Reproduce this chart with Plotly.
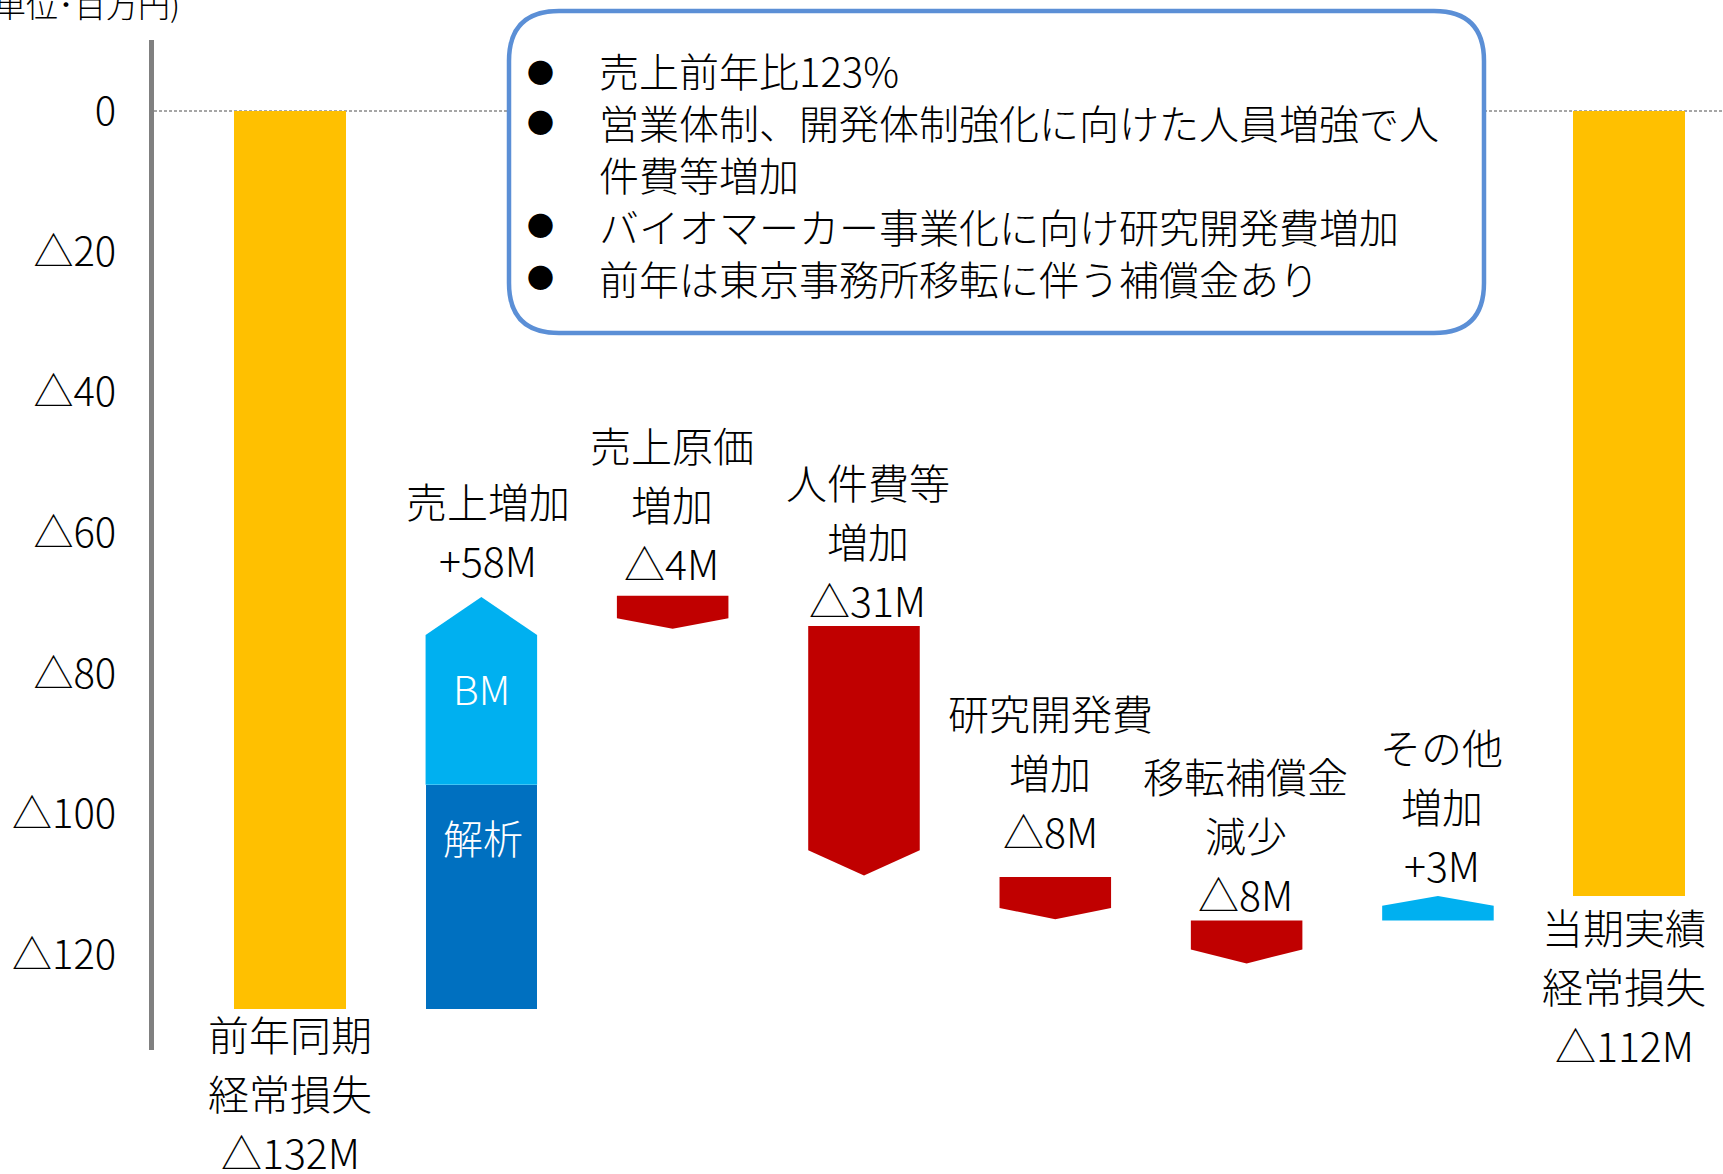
import plotly.graph_objects as go

# ---------------- data ----------------
categories = ["前年同期経常損失", "売上増加", "売上原価増加", "人件費等増加",
              "研究開発費増加", "移転補償金減少", "その他増加", "当期実績経常損失"]
label_lines = [["前年同期", "経常損失"], ["売上増加"], ["売上原価", "増加"],
               ["人件費等", "増加"], ["研究開発費", "増加"], ["移転補償金", "減少"],
               ["その他", "増加"], ["当期実績", "経常損失"]]
value_labels = ["△132M", "+58M", "△4M", "△31M", "△8M", "△8M", "+3M", "△112M"]

prev_year_loss = -127.6          # bar as drawn
sales_segments = ["解析", "BM"]
sales_values = [31.8, 26.7]      # stacked increase (解析, BM)
step_start = [-68.9, -73.2, -108.9, -115.1, -115.1]
step_end = [-73.6, -108.7, -114.9, -121.2, -111.6]
current_loss = -111.6

tick_values = [0, -20, -40, -60, -80, -100, -120]
tick_labels = ["0", "△20", "△40", "△60", "△80", "△100", "△120"]

note_items = [["売上前年比123%"],
              ["営業体制、開発体制強化に向けた人員増強で人", "件費等増加"],
              ["バイオマーカー事業化に向け研究開発費増加"],
              ["前年は東京事務所移転に伴う補償金あり"]]
unit_label = "(単位･百万円)"

# ---------------- style ----------------
W, H = 1723, 1174
ML, MR, MT, MB = 154, 0, 40, 124
X_RANGE = [-0.711, 7.49]
Y_RANGE = [-133.5, 10.1]
HALF = 0.2915
FONT = "Noto Sans CJK JP"
YELLOW, LBLUE, DBLUE, RED = "#FFC000", "#00B0F0", "#0070C0", "#C00000"
step_heads = [1.5, 3.6, 1.6, 2.0, 1.4]
sales_head = 5.4
label_offsets = [24, 38, 34, 27, 47, 28, 32, 30]
label_xshift = [0, 7, -1, 4, -5, -1, 4, -5]
LINE_GAP = 59
TXT_W = 300


def px2x(px):
    return (px - ML) / (W - ML - MR)


def py2y(py):
    return 1 - (py - MT) / (H - MT - MB)


def arrow(xc, s, e, head):
    d = 1 if e > s else -1
    sh = e - d * head
    xs = [xc - HALF, xc + HALF, xc + HALF, xc, xc - HALF, xc - HALF]
    ys = [s, s, sh, e, sh, s]
    return xs, ys


fig = go.Figure()

# yellow totals
fig.add_trace(go.Bar(x=[0, 7], y=[prev_year_loss, current_loss], base=0,
                     width=2 * HALF, marker=dict(color=YELLOW, line=dict(width=0)),
                     hoverinfo="skip", showlegend=False))

# sales increase: 解析 rect + BM arrow
fig.add_trace(go.Bar(x=[1], y=[sales_values[0]], base=prev_year_loss, width=2 * HALF,
                     marker=dict(color=DBLUE, line=dict(width=0)),
                     hoverinfo="skip", showlegend=False))
bm_start = prev_year_loss + sales_values[0]
bm_end = bm_start + sales_values[1]
xs, ys = arrow(1, bm_start, bm_end, sales_head)
fig.add_trace(go.Scatter(x=xs, y=ys, fill="toself", fillcolor=LBLUE, mode="lines",
                         line=dict(width=0, color=LBLUE), hoverinfo="skip", showlegend=False))

# steps
for k, (s, e) in enumerate(zip(step_start, step_end)):
    col = LBLUE if e > s else RED
    xs, ys = arrow(k + 2, s, e, step_heads[k])
    fig.add_trace(go.Scatter(x=xs, y=ys, fill="toself", fillcolor=col, mode="lines",
                             line=dict(width=0, color=col), hoverinfo="skip", showlegend=False))

annotations = []
# category labels
anchors = [prev_year_loss, bm_end] + [max(s, e) for s, e in zip(step_start, step_end)] + [current_loss]
below = [True, False, False, False, False, False, False, True]
for i in range(8):
    lines = label_lines[i] + [value_labels[i]]
    n = len(lines)
    for k, t in enumerate(lines):
        if below[i]:
            ysh = -(label_offsets[i] + k * LINE_GAP)
        else:
            ysh = label_offsets[i] + (n - 1 - k) * LINE_GAP
        annotations.append(dict(x=i, y=anchors[i], xref="x", yref="y", text=t,
                                showarrow=False, yshift=ysh, xshift=label_xshift[i],
                                xanchor="center", yanchor="middle",
                                font=dict(family=FONT, size=41, color="black", weight=TXT_W)))

# segment labels inside sales arrow
annotations.append(dict(x=1, y=prev_year_loss + sales_values[0] / 2, xref="x", yref="y",
                        text=sales_segments[0], showarrow=False, yshift=60, xshift=2,
                        font=dict(family=FONT, size=40, color="white", weight=TXT_W)))
annotations.append(dict(x=1, y=bm_start + sales_values[1] / 2, xref="x", yref="y",
                        text=sales_segments[1], showarrow=False, yshift=3,
                        font=dict(family=FONT, size=40, color="white", weight=TXT_W)))

# notes box text: bullets + one multi-line block
line_y = [71, 122, 173, 225, 276]
li = 0
block = []
for item in note_items:
    annotations.append(dict(x=px2x(540), y=py2y(line_y[li]), xref="paper", yref="paper",
                            text="●", showarrow=False, xanchor="center", yanchor="middle",
                            font=dict(family=FONT, size=27, color="black")))
    for t in item:
        block.append(t)
        li += 1
annotations.append(dict(x=px2x(597), y=py2y((line_y[0] + line_y[-1]) / 2), xref="paper",
                        yref="paper", text="<br>".join(block), showarrow=False,
                        xanchor="left", yanchor="middle", align="left",
                        font=dict(family=FONT, size=40, color="black", weight=TXT_W)))

# unit label (partly off-page as in source)
annotations.append(dict(x=px2x(182), y=py2y(3), xref="paper", yref="paper", text=unit_label,
                        showarrow=False, xanchor="right", yanchor="middle",
                        font=dict(family=FONT, size=32, color="black", weight=TXT_W)))

# shapes
x0, x1, y0, y1, r = 509, 1484, 11, 333, 50
pts = lambda a, b: f"{px2x(a):.5f},{py2y(b):.5f}"
path = (f"M {pts(x0 + r, y0)} L {pts(x1 - r, y0)} Q {pts(x1, y0)} {pts(x1, y0 + r)} "
        f"L {pts(x1, y1 - r)} Q {pts(x1, y1)} {pts(x1 - r, y1)} "
        f"L {pts(x0 + r, y1)} Q {pts(x0, y1)} {pts(x0, y1 - r)} "
        f"L {pts(x0, y0 + r)} Q {pts(x0, y0)} {pts(x0 + r, y0)} Z")
shapes = [
    dict(type="line", xref="paper", yref="y", x0=0, x1=1, y0=0, y1=0,
         line=dict(color="#A6A6A6", width=2, dash="3px,2px"), layer="below"),
    dict(type="path", xref="paper", yref="paper", path=path, fillcolor="white",
         line=dict(color="#5B8FD6", width=4.5), layer="above"),
]

fig.update_layout(
    width=W, height=H,
    margin=dict(l=ML, r=MR, t=MT, b=MB, pad=0),
    paper_bgcolor="white", plot_bgcolor="white",
    showlegend=False,
    bargap=0,
    xaxis=dict(range=X_RANGE, visible=False, fixedrange=True),
    yaxis=dict(range=Y_RANGE, showgrid=False, zeroline=False, showline=True,
               linecolor="#808080", linewidth=4.5, tickvals=tick_values, ticktext=tick_labels,
               ticks="", ticklabelstandoff=25,
               tickfont=dict(family=FONT, size=40, color="black", weight=TXT_W),
               fixedrange=True),
    annotations=annotations,
    shapes=shapes,
)

fig.write_html("out.html", config={"displayModeBar": False},
               post_script="document.body.style.margin='0px';")
